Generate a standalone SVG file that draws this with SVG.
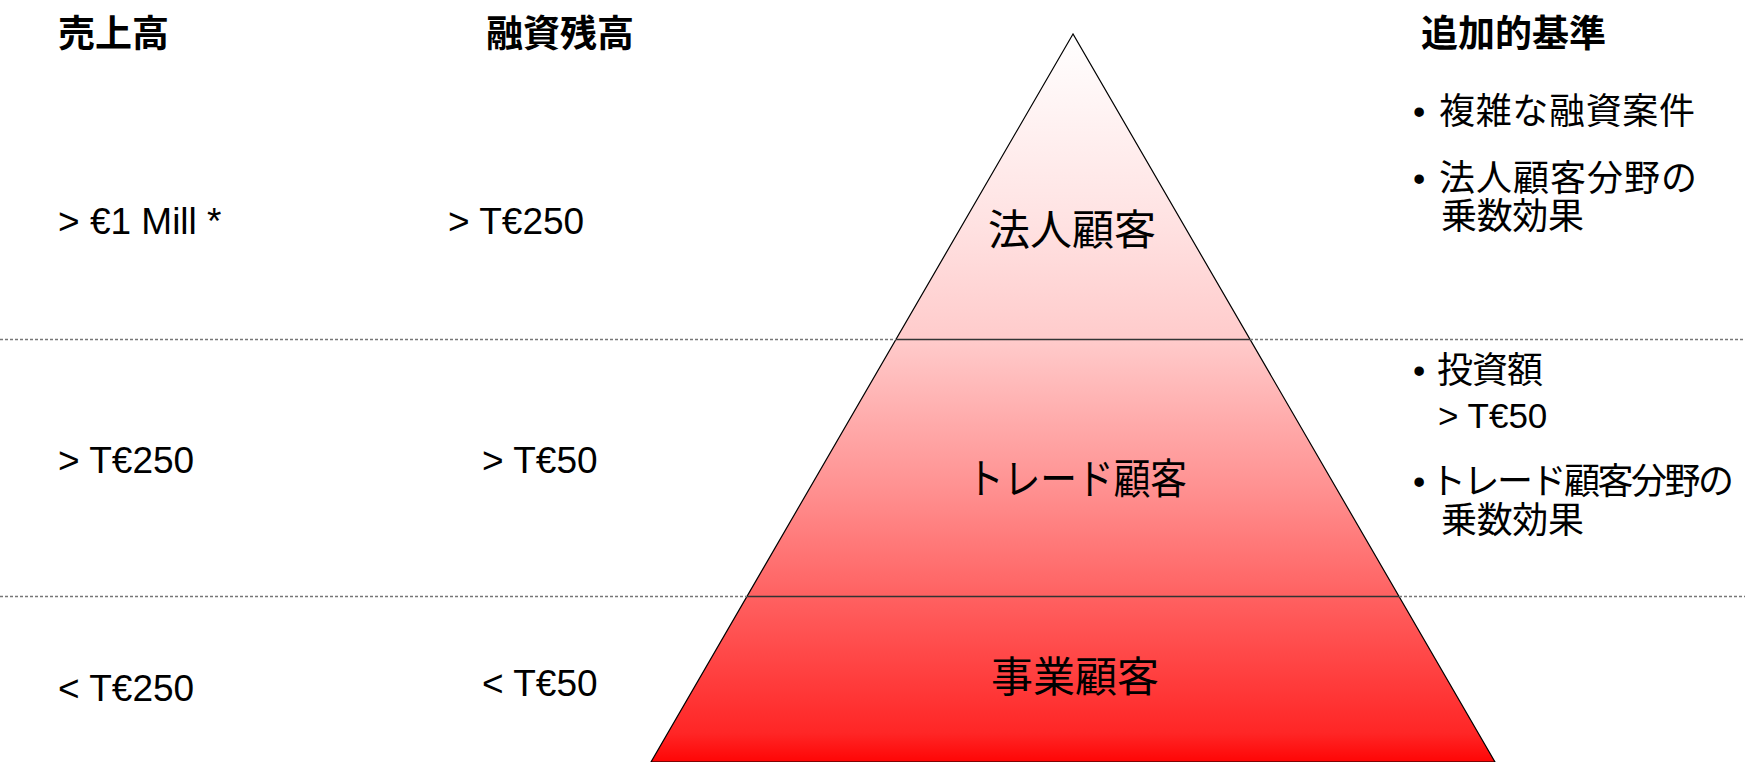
<svg xmlns="http://www.w3.org/2000/svg" width="1745" height="762" viewBox="0 0 1745 762">
<defs>
<linearGradient id="pyr" x1="0" y1="34" x2="0" y2="762" gradientUnits="userSpaceOnUse">
<stop offset="0" stop-color="#ffffff"/>
<stop offset="0.26" stop-color="#ffe2e2"/>
<stop offset="0.42" stop-color="#ffcbcb"/>
<stop offset="0.63" stop-color="#ff8f8f"/>
<stop offset="0.77" stop-color="#ff6262"/>
<stop offset="0.96" stop-color="#ff2626"/>
<stop offset="1" stop-color="#ff0505"/>
</linearGradient>
</defs>
<style>
.h{font-family:"Noto Sans CJK JP","Liberation Sans",sans-serif;font-weight:bold;font-size:37px;fill:#000}
.v{font-family:"Liberation Sans","Noto Sans CJK JP",sans-serif;font-size:37px;fill:#000}
.b{font-family:"Noto Sans CJK JP","Liberation Sans",sans-serif;font-size:36px;fill:#000}
.bl{font-family:"Liberation Sans","Noto Sans CJK JP",sans-serif;font-size:35px;fill:#000}
.c{font-family:"Noto Sans CJK JP","Liberation Sans",sans-serif;font-size:42px;fill:#000;text-anchor:middle}
.dot{stroke:#777;stroke-width:1.5;stroke-dasharray:3 2;fill:none}
.sep{stroke:#333;stroke-width:1.5;fill:none}
</style>
<rect width="1745" height="762" fill="#ffffff"/>
<g id="pyramid">
<polygon points="1073,34 651,762 1495,762" fill="url(#pyr)" stroke="#000" stroke-width="1.2"/>
</g>
<g id="connectors">
<line class="dot" x1="0" y1="339.5" x2="896" y2="339.5"/>
<line class="dot" x1="1250" y1="339.5" x2="1745" y2="339.5"/>
<line class="sep" x1="896" y1="339.5" x2="1250" y2="339.5"/>
<line class="dot" x1="0" y1="596.5" x2="747" y2="596.5"/>
<line class="dot" x1="1399" y1="596.5" x2="1745" y2="596.5"/>
<line class="sep" x1="747" y1="596.5" x2="1399" y2="596.5"/>
</g>
<g id="headers">
<text class="h" x="58" y="47">売上高</text>
<text class="h" x="486" y="47">融資残高</text>
<text class="h" x="1421" y="47">追加的基準</text>
</g>
<g id="tier-corporate">
<text class="c" x="1072" y="245">法人顧客</text>
<text class="v" x="58" y="234">&gt; €1 Mill *</text>
<text class="v" x="448" y="234">&gt; T€250</text>
<text class="bl" x="1413" y="124">•</text>
<text class="b" x="1439" y="124" textLength="256" lengthAdjust="spacing">複雑な融資案件</text>
<text class="bl" x="1413" y="191">•</text>
<text class="b" x="1439" y="191" textLength="258" lengthAdjust="spacing">法人顧客分野の</text>
<text class="b" x="1441" y="229" textLength="143" lengthAdjust="spacing">乗数効果</text>
</g>
<g id="tier-trade">
<text class="c" x="1077" y="494" textLength="220" lengthAdjust="spacingAndGlyphs">トレード顧客</text>
<text class="v" x="58" y="473">&gt; T€250</text>
<text class="v" x="482" y="473">&gt; T€50</text>
<text class="bl" x="1413" y="383">•</text>
<text class="b" x="1437" y="383" textLength="106" lengthAdjust="spacing">投資額</text>
<text class="bl" x="1438" y="428">&gt; T€50</text>
<text class="bl" x="1413" y="494">•</text>
<text class="b" x="1430" y="494" textLength="304" lengthAdjust="spacing">トレード顧客分野の</text>
<text class="b" x="1441" y="533" textLength="143" lengthAdjust="spacing">乗数効果</text>
</g>
<g id="tier-business">
<text class="c" x="1075" y="692">事業顧客</text>
<text class="v" x="58" y="701">&lt; T€250</text>
<text class="v" x="482" y="696">&lt; T€50</text>
</g>
</svg>
